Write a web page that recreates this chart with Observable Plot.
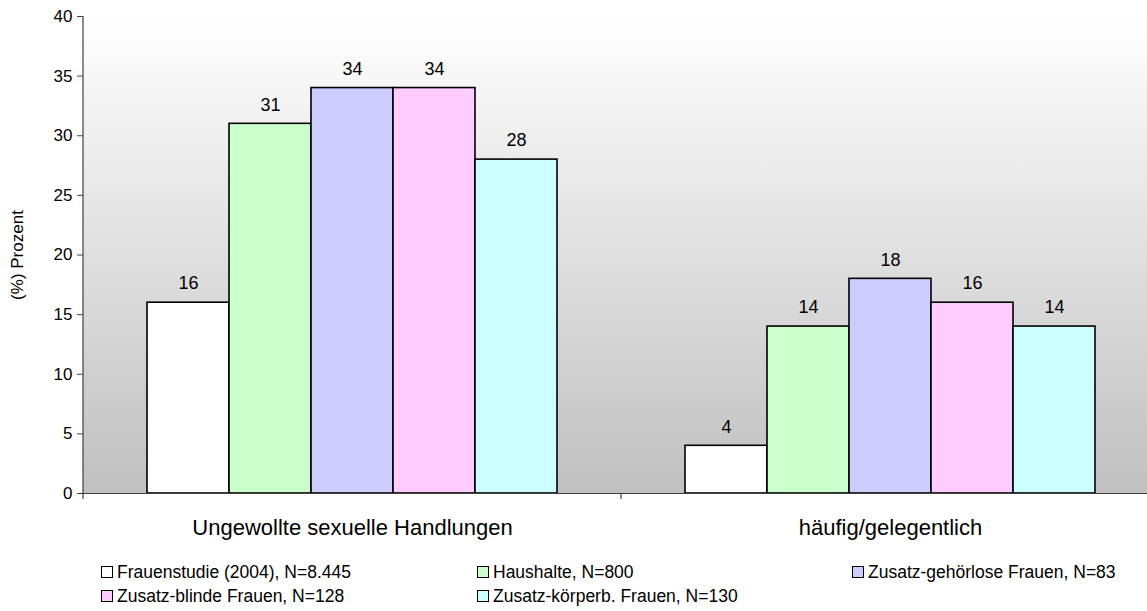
<!DOCTYPE html>
<html>
<head>
<meta charset="utf-8">
<script src="https://cdn.jsdelivr.net/npm/d3@7"></script>
<script src="https://cdn.jsdelivr.net/npm/@observablehq/plot@0.6"></script>
<style>
  html, body { margin: 0; padding: 0; background: #fff; }
  body { font-family: "Liberation Sans", Arial, sans-serif; width: 1147px; height: 611px; overflow: hidden; position: relative; }
  #chart { position: absolute; left: 0; top: 0; }
  #legend { position: absolute; left: 101px; top: 562px; display: grid; grid-template-columns: 376px 375px 300px; row-gap: 4px; font-size: 17.5px; color: #000; }
  .item { display: flex; align-items: center; height: 20px; white-space: nowrap; }
  .sw { width: 10px; height: 10px; border: 1px solid #000; margin-right: 4px; flex: none; }
</style>
</head>
<body>
<div id="chart"></div>
<div id="legend"></div>
<script>
const groups = ["Ungewollte sexuelle Handlungen", "häufig/gelegentlich"];
const series = ["Frauenstudie (2004), N=8.445", "Haushalte, N=800", "Zusatz-gehörlose Frauen, N=83", "Zusatz-blinde Frauen, N=128", "Zusatz-körperb. Frauen, N=130"];
const colors = ["#ffffff", "#ccffcc", "#ccccff", "#ffccff", "#ccffff"];
const valuesUngewollt = [16, 31, 34, 34, 28];
const valuesHaeufig = [4, 14, 18, 16, 14];
const yTicks = [0, 5, 10, 15, 20, 25, 30, 35, 40];
const yLabel = "(%) Prozent";

const table = [];
[valuesUngewollt, valuesHaeufig].forEach((vals, gi) => {
  vals.forEach((v, si) => table.push({group: groups[gi], series: series[si], value: v}));
});

const axisColor = "#404040";

const plot = Plot.plot({
  width: 1147,
  height: 545,
  marginLeft: 83,
  marginRight: -12,
  marginTop: 16,
  marginBottom: 52,
  style: {fontFamily: '"Liberation Sans", Arial, sans-serif', color: "#000", background: "transparent"},
  fx: {domain: groups, padding: 0, axis: null},
  x: {domain: series, paddingInner: 0, paddingOuter: 0.765, axis: null},
  y: {domain: [0, 40], axis: null},
  color: {domain: series, range: colors},
  marks: [
    Plot.barY(table, {fx: "group", x: "series", y: "value", fill: "series", stroke: "#000", strokeWidth: 1.6}),
    Plot.text(table, {fx: "group", x: "series", y: "value", text: d => String(d.value), dy: -19, fontSize: 18, fill: "#000"}),
    Plot.ruleY([0], {stroke: axisColor, strokeWidth: 1.2}),
    Plot.axisY({ticks: yTicks, tickSize: 6, tickPadding: 5, fontSize: 17, label: null, stroke: axisColor}),
    Plot.axisY({ticks: [], label: yLabel, labelAnchor: "center", labelArrow: false, labelOffset: 73, fontSize: 17}),
    Plot.axisFx({anchor: "bottom", tickSize: 0, tickPadding: 26, fontSize: 22, label: null})
  ]
});

const svg = d3.select(plot);
const ys = plot.scale("y");
const fxs = plot.scale("fx");
const yTop = ys.apply(ys.domain[1]);
const yBase = ys.apply(ys.domain[0]);
const xLeft = fxs.range[0];
const xRight = fxs.range[1];

// one gradient background behind the whole plot area
const defs = svg.insert("defs", ":first-child");
const grad = defs.append("linearGradient").attr("id", "bgGrad").attr("x1", 0).attr("y1", 0).attr("x2", 0).attr("y2", 1);
grad.append("stop").attr("offset", "0%").attr("stop-color", "#ffffff");
grad.append("stop").attr("offset", "100%").attr("stop-color", "#c0c0c0");
svg.insert("rect", "defs + *")
  .attr("x", xLeft).attr("y", yTop)
  .attr("width", xRight - xLeft).attr("height", yBase - yTop)
  .attr("fill", "url(#bgGrad)");

// y axis line and category separator ticks, derived from the plot's own scales
const g = svg.append("g").attr("stroke", axisColor).attr("stroke-width", 1.2);
g.append("line").attr("x1", xLeft).attr("x2", xLeft).attr("y1", yTop).attr("y2", yBase);
groups.forEach(gr => {
  const xp = fxs.apply(gr);
  g.append("line").attr("x1", xp).attr("x2", xp).attr("y1", yBase).attr("y2", yBase + 6);
});

document.getElementById("chart").appendChild(plot);

const legend = d3.select("#legend");
series.forEach((s, i) => {
  const it = legend.append("div").attr("class", "item");
  it.append("div").attr("class", "sw").style("background", colors[i]);
  it.append("span").text(s);
});
</script>
</body>
</html>
